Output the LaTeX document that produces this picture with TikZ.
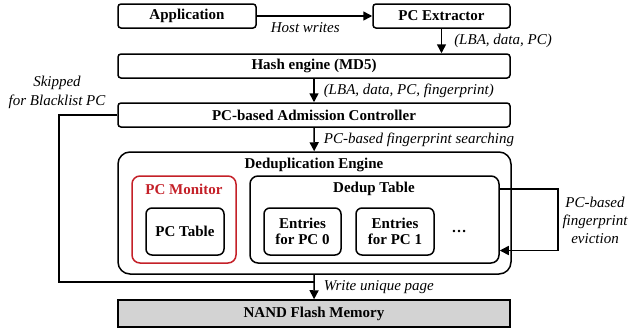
\documentclass[tikz,border=0pt]{standalone}
\usepackage{fontspec}
\setmainfont{Liberation Serif}
\usetikzlibrary{arrows.meta,positioning}
\definecolor{pcred}{RGB}{196,32,40}
\definecolor{flashgray}{RGB}{211,211,211}
\newcommand{\figsize}{\fontsize{15}{16}\selectfont}

\tikzset{
  box/.style={draw, line width=1.5pt, rounded corners=3pt, font=\figsize\bfseries, inner sep=0pt, align=center},
  title/.style={font=\figsize\bfseries, inner sep=0pt},
  lbl/.style={font=\figsize\itshape, inner sep=0pt, align=center},
  flow/.style={-{Triangle[length=9pt,width=9pt]}, line width=1.5pt},
  wire/.style={line width=1.5pt},
}

\begin{document}
\begin{tikzpicture}[x=1pt,y=-1pt]
   \useasboundingbox (0,0) rectangle (630,333);
   % host side
   \node[box, minimum width=138, minimum height=24] (app) at (187,16) {Application};
   \node[box, minimum width=137, minimum height=24] (pcx) at (441.5,16) {PC Extractor};
   \node[box, minimum width=392, minimum height=24] (hash) at (314,66) {Hash engine (MD5)};
   \node[box, minimum width=392, minimum height=24] (adm) at (314,115) {PC-based Admission Controller};
   % dedup engine
   \node[box, rounded corners=12pt, minimum width=393, minimum height=122] (dedup) at (314.5,213) {};
   \node[title] (dtitle) at (314,165) {Deduplication Engine};
   \node[box, draw=pcred, rounded corners=8pt, minimum width=104, minimum height=87] (mon) at (184,219.5) {};
   \node[title, text=pcred] (montitle) at (184,189) {PC Monitor};
   \node[box, rounded corners=6pt, minimum width=78, minimum height=47] (pctab) at (185,231.5) {PC Table};
   \node[box, rounded corners=8pt, minimum width=249, minimum height=87] (dtab) at (374.5,219.5) {};
   \node[title] (dtabtitle) at (374,189) {Dedup Table};
   \node[box, rounded corners=6pt, minimum width=77, minimum height=47] (ent0) at (302.5,231.5) {Entries\\for PC 0};
   \node[box, rounded corners=6pt, minimum width=78, minimum height=47] (ent1) at (395,231.5) {Entries\\for PC 1};
   \node[title] (dots) at (459,231) {\dots};
   \node[box, rounded corners=0pt, fill=flashgray, minimum width=392, minimum height=27] (nand) at (314,313.5) {NAND Flash Memory};
   % flows
   \draw[flow] (app) -- (pcx) node[lbl, pos=0.42, below=6pt] {Host writes};
   \draw[flow] (pcx.south) -- (pcx.south |- hash.north) node[lbl, midway, right=12pt] {(LBA, data, PC)};
   \draw[flow] (hash) -- (adm) node[lbl, midway, right=9pt] {(LBA, data, PC, fingerprint)};
   \draw[flow] (adm) -- (dedup) node[lbl, midway, right=9pt] {PC-based fingerprint searching};
   \draw[flow] (dedup) -- (nand) node[lbl, midway, right=9pt] {Write unique page};
   % skip path
   \coordinate (join) at (314,282);
   \coordinate (skip) at (59,282);
   \draw[wire] (adm.west) -| (skip) -- (join);
   \node[lbl, font=\fontsize{15}{19}\selectfont\itshape] (skiplbl) at (57,92) {Skipped\\for Blacklist PC};
   % eviction loop
   \draw[flow] ([yshift=30.5pt]dtab.east) -- ++(58,0) |- ([yshift=-31pt]dtab.east);
   \node[lbl, font=\fontsize{15}{18}\selectfont\itshape] (evictlbl) at (595,220) {PC-based\\fingerprint\\eviction};
\end{tikzpicture}
\end{document}
